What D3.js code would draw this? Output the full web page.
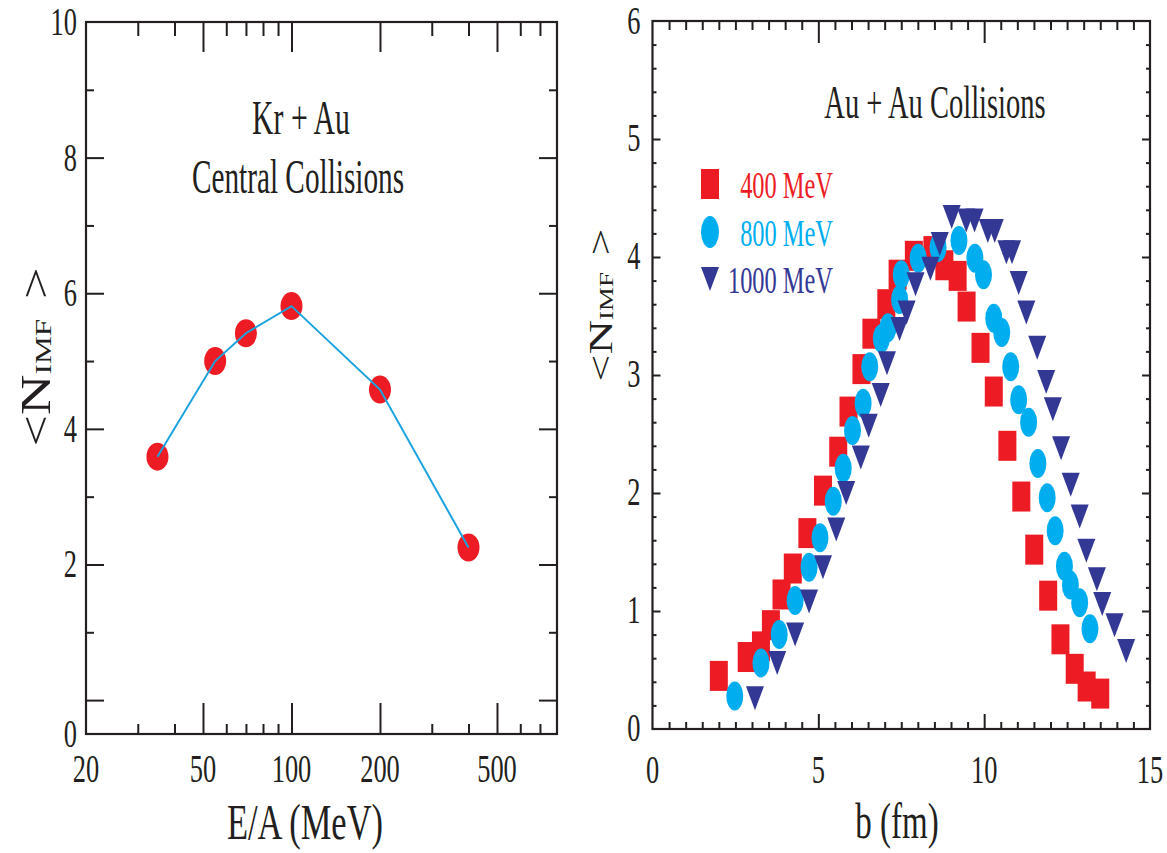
<!DOCTYPE html>
<html><head><meta charset="utf-8">
<script src="https://cdn.jsdelivr.net/npm/d3@7"></script>
<style>body{margin:0;background:#fff}</style>
</head><body>
<svg id="chart" width="1167" height="853"></svg>
<script>
// ---------- data ----------
const energies = [35, 55, 70, 100, 200, 400];
const nimfKrAu = [3.59, 5.00, 5.41, 5.81, 4.58, 2.25];

const b400 = [2.00,2.84,3.27,3.57,3.89,4.23,4.67,5.14,5.60,5.91,6.30,6.60,7.05,7.39,7.88,8.44,8.80,9.20,9.47,9.89,10.29,10.70,11.12,11.51,11.93,12.30,12.73,13.09,13.50];
const n400 = [0.45,0.61,0.70,0.88,1.14,1.36,1.66,2.02,2.35,2.69,3.05,3.35,3.60,3.85,4.01,4.05,3.93,3.84,3.58,3.23,2.86,2.40,1.97,1.52,1.13,0.76,0.51,0.36,0.30];

const b800 = [2.48,3.27,3.82,4.30,4.72,5.05,5.45,5.75,6.03,6.35,6.55,6.90,7.10,7.45,7.50,8.01,8.61,9.24,9.72,9.98,10.29,10.53,10.80,11.04,11.34,11.62,11.90,12.14,12.42,12.60,12.88,13.19];
const n800 = [0.28,0.56,0.80,1.09,1.37,1.62,1.93,2.21,2.53,2.76,3.07,3.31,3.40,3.64,3.85,3.99,4.08,4.14,3.99,3.85,3.48,3.36,3.07,2.79,2.60,2.25,1.96,1.68,1.38,1.22,1.07,0.85];

const b1000 = [3.09,3.76,4.30,4.72,5.14,5.54,5.84,6.28,6.52,6.88,7.07,7.45,7.66,7.93,8.38,8.66,9.02,9.46,9.71,10.11,10.32,10.67,10.84,11.04,11.27,11.60,11.87,12.07,12.32,12.61,12.88,13.08,13.40,13.56,13.93,14.28];
const n1000 = [0.26,0.56,0.80,1.08,1.37,1.69,2.00,2.30,2.57,2.83,3.10,3.39,3.53,3.77,3.90,4.11,4.34,4.31,4.31,4.22,4.22,4.04,4.04,3.78,3.53,3.23,2.94,2.71,2.38,2.07,1.80,1.51,1.27,1.06,0.88,0.66];

const leftYTicks = [0, 2, 4, 6, 8, 10];
const leftXTicks = [20, 50, 100, 200, 500];
const rightXTicks = [0, 5, 10, 15];
const rightYTicks = [0, 1, 2, 3, 4, 5, 6];
const legendLabels = ["400 MeV", "800 MeV", "1000 MeV"];
const leftTitle = ["Kr + Au", "Central Collisions"];
const rightTitle = "Au + Au Collisions";

// ---------- style ----------
const INK = "#231f20";
const RED = "#ed1c24", CYAN = "#00aeef", NAVY = "#343895", LINE = "#1ba3e0";
const FONT = "'Liberation Serif','Times New Roman',serif";
const SX = 0.66;

const svg = d3.select("#chart");

function ctext(x, y, str, size, anchor, fill, sx) {
  return svg.append("text")
    .attr("transform", `translate(${x},${y}) scale(${sx || SX},1)`)
    .attr("text-anchor", anchor)
    .attr("font-family", FONT)
    .attr("font-size", size)
    .attr("fill", fill || INK)
    .text(str);
}

function ticks(axisFn, scale, values, size, tx, ty) {
  const g = svg.append("g").attr("transform", `translate(${tx},${ty})`)
    .call(axisFn(scale).tickValues(values).tickSize(size).tickFormat(""));
  g.select(".domain").remove();
  g.selectAll("line").attr("stroke", INK).attr("stroke-width", 2);
  return g;
}

function ylabel(cx, cy, size, squish) {
  const t = svg.append("text")
    .attr("transform", `translate(${cx},${cy}) rotate(-90) scale(1,${squish})`)
    .attr("text-anchor", "middle")
    .attr("font-family", FONT)
    .attr("font-size", size)
    .attr("fill", INK);
  t.append("tspan").text("<N");
  t.append("tspan").attr("font-size", size * 0.56).attr("dy", 2).text("IMF");
  t.append("tspan").attr("dy", -2).attr("dx", size * 0.35).text(">");
}

// ---------- left panel ----------
const xL = d3.scaleLog().domain([20, 800]).range([86, 557]);
const yL = d3.scaleLinear().domain([-0.5, 10]).range([734, 22]);
const [L0, L1] = xL.range(), [B0, T0] = yL.range();

const yMinorL = [1, 3, 5, 7, 9];
const xMinorL = [30, 40, 60, 70, 80, 90, 300, 400, 600, 700];
const xMajorL = [50, 100, 200, 500];

ticks(d3.axisLeft, yL, [0, 2, 4, 6, 8], -18, L0, 0);
ticks(d3.axisLeft, yL, yMinorL, -8, L0, 0);
ticks(d3.axisRight, yL, [0, 2, 4, 6, 8], -18, L1, 0);
ticks(d3.axisRight, yL, yMinorL, -8, L1, 0);
ticks(d3.axisBottom, xL, xMajorL, -31, 0, B0);
ticks(d3.axisBottom, xL, xMinorL, -10, 0, B0);
ticks(d3.axisTop, xL, xMajorL, -30, 0, T0);
ticks(d3.axisTop, xL, xMinorL, -14, 0, T0);

svg.append("rect").attr("x", L0).attr("y", T0).attr("width", L1 - L0).attr("height", B0 - T0)
  .attr("fill", "none").attr("stroke", INK).attr("stroke-width", 2.2);

leftYTicks.forEach(v => {
  const pos = v === 0 ? yL.domain()[0] : v;
  ctext(L0 - 9, yL(pos) + 13, String(v), 40, "end");
});
leftXTicks.forEach(v => ctext(xL(v), 782, String(v), 40, "middle"));

ctext(301, 134, leftTitle[0], 48, "middle", INK, 0.62);
ctext(298, 193, leftTitle[1], 48, "middle", INK, 0.61);
ctext(305, 839, "E/A (MeV)", 50, "middle", INK, 0.69);
ylabel(50, 357, 56, 0.74);

const leftPts = energies.map((e, i) => [e, nimfKrAu[i]]);
svg.append("g").selectAll("ellipse").data(leftPts).join("ellipse")
  .attr("cx", d => xL(d[0])).attr("cy", d => yL(d[1]))
  .attr("rx", 11).attr("ry", 14).attr("fill", RED);
svg.append("path").datum(leftPts)
  .attr("d", d3.line().x(d => xL(d[0])).y(d => yL(d[1])))
  .attr("fill", "none").attr("stroke", LINE).attr("stroke-width", 2);

// ---------- right panel ----------
const xR = d3.scaleLinear().domain([0, 15]).range([652.5, 1150]);
const yR = d3.scaleLinear().domain([0, 6]).range([729, 21]);
const [R0, R1] = xR.range(), [RB, RT] = yR.range();

const yMinorR = d3.range(0.2, 6, 0.2).filter(v => Math.abs(v - Math.round(v)) > 1e-6);
const xMinorR = d3.range(0.5, 15, 0.5).filter(v => Math.abs(v % 5) > 1e-6);

ticks(d3.axisLeft, yR, [1, 2, 3, 4, 5], -8, R0, 0);
ticks(d3.axisLeft, yR, yMinorR, -4, R0, 0);
ticks(d3.axisRight, yR, [1, 2, 3, 4, 5], -8, R1, 0);
ticks(d3.axisRight, yR, yMinorR, -4, R1, 0);
ticks(d3.axisBottom, xR, [5, 10], -15, 0, RB);
ticks(d3.axisBottom, xR, xMinorR, -7, 0, RB);
ticks(d3.axisTop, xR, [5, 10], -22, 0, RT);
ticks(d3.axisTop, xR, xMinorR, -9, 0, RT);

svg.append("rect").attr("x", R0).attr("y", RT).attr("width", R1 - R0).attr("height", RB - RT)
  .attr("fill", "none").attr("stroke", INK).attr("stroke-width", 2.2);

rightYTicks.forEach(v => ctext(R0 - 12, Math.max(yR(v) + 12, 34), String(v), 40, "end"));
rightXTicks.forEach(v => ctext(xR(v), 783, String(v), 40, "middle"));

ctext(935, 118, rightTitle, 46, "middle", INK, 0.62);
ctext(897, 838, "b (fm)", 50, "middle");
ylabel(612, 305, 48, 0.72);

const pts400 = b400.map((b, i) => [b, n400[i]]);
const pts800 = b800.map((b, i) => [b, n800[i]]);
const pts1000 = b1000.map((b, i) => [b, n1000[i]]);
const TRI = "M-9,-12L9,-12L0,12Z";

svg.append("g").selectAll("rect").data(pts400).join("rect")
  .attr("x", d => xR(d[0]) - 9).attr("y", d => yR(d[1]) - 15)
  .attr("width", 18).attr("height", 30).attr("fill", RED);
svg.append("g").selectAll("ellipse").data(pts800).join("ellipse")
  .attr("cx", d => xR(d[0])).attr("cy", d => yR(d[1]))
  .attr("rx", 8.5).attr("ry", 14.5).attr("fill", CYAN);
svg.append("g").selectAll("path").data(pts1000).join("path")
  .attr("transform", d => `translate(${xR(d[0])},${yR(d[1])})`)
  .attr("d", TRI).attr("fill", NAVY);

// legend
const legY = [184, 232, 279];
const legCol = [RED, CYAN, NAVY];
svg.append("rect").attr("x", 701).attr("y", legY[0] - 15).attr("width", 18).attr("height", 30).attr("fill", RED);
svg.append("ellipse").attr("cx", 710).attr("cy", legY[1]).attr("rx", 9).attr("ry", 16).attr("fill", CYAN);
svg.append("path").attr("transform", `translate(710,${legY[2]})`).attr("d", TRI).attr("fill", NAVY);
legendLabels.forEach((s, i) => ctext(833, legY[i] + 14, s, 37, "end", legCol[i]));
</script>
</body></html>
